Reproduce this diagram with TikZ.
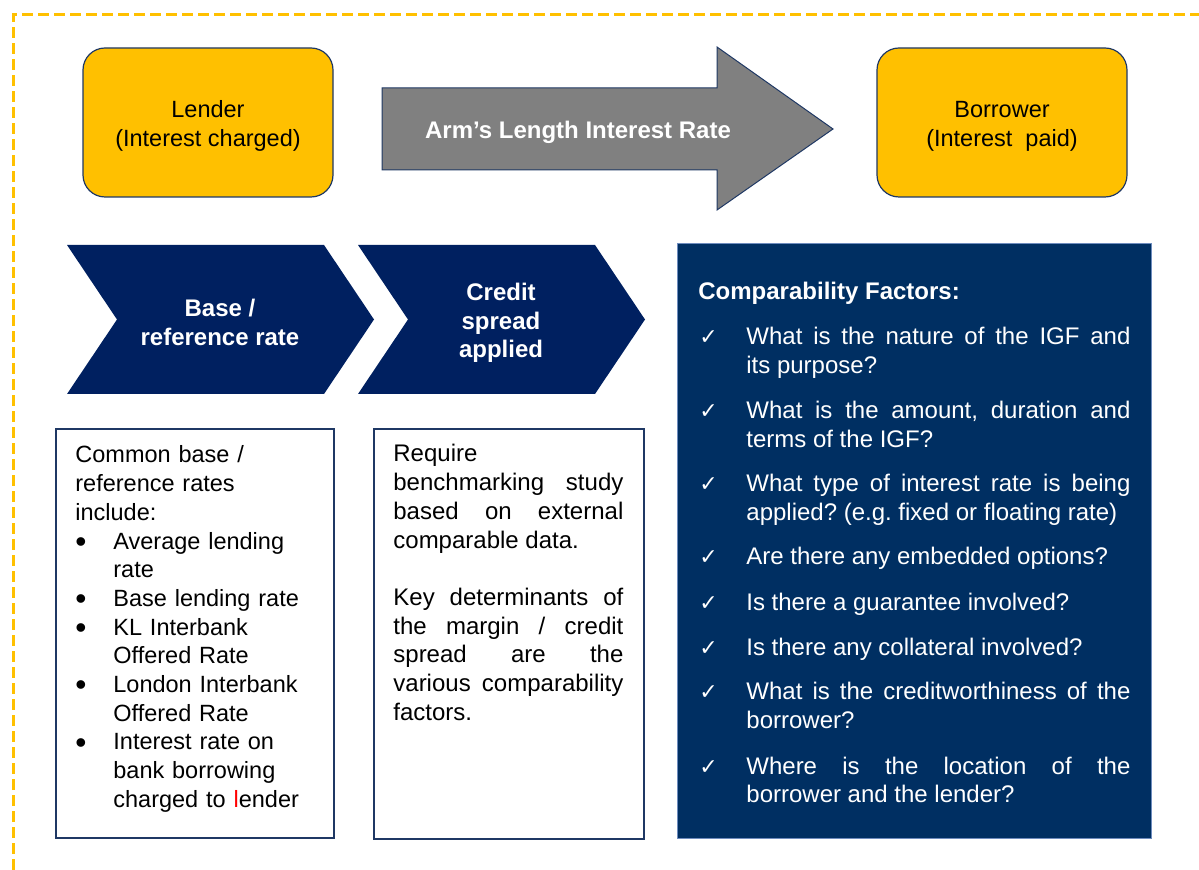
\documentclass[tikz,border=0pt]{standalone}
\usepackage{fontspec}
\setmainfont{Liberation Sans}
\newfontfamily\checkfont{DejaVu Sans}

\definecolor{gold}{RGB}{255,192,0}
\definecolor{navyline}{RGB}{31,56,100}
\definecolor{chevronblue}{RGB}{0,32,96}
\definecolor{factorblue}{RGB}{0,47,98}
\definecolor{factoredge}{RGB}{110,140,190}
\definecolor{arrowgray}{RGB}{128,128,128}
\definecolor{markred}{RGB}{255,0,0}

\newcommand\bodyfont{\fontsize{12}{14.35}\selectfont\frenchspacing}
\newcommand\notefont{\fontsize{11.75}{14.35}\selectfont\frenchspacing}
\newcommand\tickmark{\leavevmode\llap{\makebox[24pt][l]{\hspace{0.5pt}{\checkfont\fontsize{11}{11}\selectfont ✓}}}}
\newcommand\bul{\makebox[19pt][l]{\smash{\raisebox{-1.6pt}{\scalebox{1.35}{\textbullet}}}}}

\tikzset{
  party/.style={draw=navyline, line width=0.6pt, fill=gold, rounded corners=11pt,
    minimum width=125pt, minimum height=74.5pt, inner sep=0pt},
  partytext/.style={align=center, inner sep=0pt, font=\notefont},
  notebox/.style={draw=navyline, line width=1pt, fill=white, anchor=north west, inner sep=0pt},
  chevrontext/.style={align=center, text=white, inner sep=0pt, font=\bodyfont\bfseries},
  plaintext/.style={anchor=base west, inner sep=0pt, font=\bodyfont},
  factortext/.style={anchor=base west, inner sep=0pt, text width=192pt, align=justify,
    text=white, font=\bodyfont},
}

\begin{document}
\begin{tikzpicture}[x=0.5pt, y=-0.5pt]
  \useasboundingbox (0,0) rectangle (1199,870);

  % dashed frame along the top and the left
  \draw[gold, line width=1.5pt, dash pattern=on 5.5pt off 2.5pt] (13,870) -- (13,15) -- (1199,15);

  % parties
  \node[party] (lender) at (208,122.5) {};
  \node[partytext] (lenderlabel) at (208,126) {Lender\\(Interest charged)};
  \node[party] (borrower) at (1002,122.5) {};
  \node[partytext] (borrowerlabel) at (1002,126.5) {Borrower\\(Interest\ \ paid)};

  % arm's length arrow
  \filldraw[fill=arrowgray, draw=navyline, line width=0.5pt]
    (382,88) -- (717,88) -- (717,47) -- (833,129) -- (717,210) -- (717,170) -- (382,170) -- cycle;
  \node[inner sep=0pt, text=white, font=\bodyfont\bfseries] (alr) at (578,132) {Arm’s Length Interest Rate};

  % chevrons
  \fill[chevronblue] (67,245) -- (324,245) -- (374,319.5) -- (324,394) -- (67,394) -- (117,319.5) -- cycle;
  \node[chevrontext] (base) at (220,322.5) {Base /\\reference rate};
  \fill[chevronblue] (358,245) -- (595,245) -- (645,319.5) -- (595,394) -- (358,394) -- (408,319.5) -- cycle;
  \node[chevrontext] (spread) at (501,323) {Credit\\spread\\applied};

  % note boxes
  \node[notebox, minimum width=139pt, minimum height=204.5pt] (ratesbox) at (55,428) {};
  \node[plaintext, font=\notefont, text width=129pt, align=left] (rates) at (75,463) {Common base /\\
    reference rates\\
    include:\\
    \bul Average lending\\
    \hspace*{19pt}rate\\
    \bul Base lending rate\\
    \bul KL Interbank\\
    \hspace*{19pt}Offered Rate\\
    \bul London Interbank\\
    \hspace*{19pt}Offered Rate\\
    \bul Interest rate on\\
    \hspace*{19pt}bank borrowing\\
    \hspace*{19pt}charged to \textcolor{markred}{l}ender};

  \node[notebox, minimum width=135pt, minimum height=205pt] (spreadbox) at (373,428) {};
  \node[plaintext, text width=115pt, align=justify] (spreadnote) at (393,462) {Require\newline
    benchmarking study\linebreak
    based on external\linebreak
    comparable data.\par\vspace{14.35pt}
    Key determinants of\linebreak
    the margin / credit\linebreak
    spread are the\linebreak
    various comparability\linebreak
    factors.};

  % comparability factors
  \node[fill=factorblue, draw=factoredge, line width=0.4pt, anchor=north west, inner sep=0pt,
    minimum width=237pt, minimum height=297.5pt] (factors) at (677,243) {};
  \node[plaintext, text=white, font=\bodyfont\bfseries] (factorhead) at (698,300) {Comparability Factors:};
  \node[factortext] (f1) at (746,345) {\tickmark What is the nature of the IGF and\linebreak its purpose?};
  \node[factortext] (f2) at (746,418.5) {\tickmark What is the amount, duration and\linebreak terms of the IGF?};
  \node[factortext] (f3) at (746,491.5) {\tickmark What type of interest rate is being\linebreak applied? (e.g. fixed or floating rate)};
  \node[factortext] (f4) at (746,565) {\tickmark Are there any embedded options?};
  \node[factortext] (f5) at (746,610.5) {\tickmark Is there a guarantee involved?};
  \node[factortext] (f6) at (746,655.5) {\tickmark Is there any collateral involved?};
  \node[factortext] (f7) at (746,700) {\tickmark What is the creditworthiness of the\linebreak borrower?};
  \node[factortext] (f8) at (746,774) {\tickmark Where is the location of the\linebreak borrower and the lender?};
\end{tikzpicture}
\end{document}
